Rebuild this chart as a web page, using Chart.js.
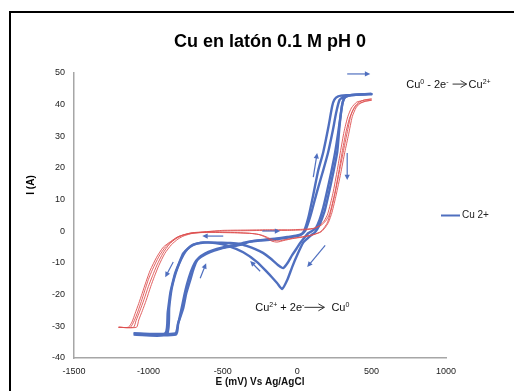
<!DOCTYPE html>
<html>
<head>
<meta charset="utf-8">
<script src="https://cdn.jsdelivr.net/npm/chart.js@4.4.0/dist/chart.umd.min.js"></script>
<style>
  html, body { margin: 0; padding: 0; background: #fff; }
</style>
</head>
<body>
<canvas id="cv" width="514" height="391"></canvas>
<script>
// Potential (mV vs Ag/AgCl) and current (A) for each cycle.
// Each cycle runs forward from the cathodic limit, up to +500 mV, and back.
const blue1E = [-1100, -820, -800, -785, -766, -745, -719, -695, -672, -630, -585, -530, -470, -420, -383, -340, -296, -230, -150, -67, 0, 40, 74, 110, 140, 175, 210, 235, 250, 275, 330, 420, 497,
  400, 340, 315, 300, 285, 269, 240, 210, 185, 168, 145, 120, 95, 70, 40, 0, -34, -67, -101, -134, -170, -202, -269, -363, -470, -550, -632, -670, -699, -730, -766, -795, -820, -840, -853, -870, -887, -1100];
const blue1I = [-32.2, -32.2, -29, -27, -24.3, -19.5, -15.4, -11.6, -9.1, -7.6, -6.6, -5.7, -5.0, -4.6, -4.3, -3.6, -3.0, -2.7, -2.3, -1.8, -1.3, -0.5, 4.2, 12, 19, 25, 33, 39.5, 41.6, 42.6, 43.0, 43.2, 43.4,
  43.2, 42.8, 42.0, 39.5, 33.5, 25, 18, 11.5, 6.5, 4.2, 1.5, -0.3, -1.2, -2.2, -3.6, -7.5, -11.3, -15.4, -18.2, -16.4, -14.5, -12.9, -9.7, -6.6, -4.5, -3.7, -3.5, -3.8, -4.2, -5.2, -7.0, -10.2, -13.2, -16.8, -19.5, -25.5, -32.2, -32.2];

const blue2E = [-1100, -815, -800, -780, -760, -740, -715, -690, -660, -620, -570, -500, -420, -340, -250, -150, -50, 20, 55, 90, 130, 170, 208, 240, 262, 285, 320, 400, 500,
  420, 350, 320, 305, 290, 275, 255, 230, 200, 175, 150, 125, 100, 74, 45, 20, -5, -34, -65, -94, -125, -181, -230, -282, -340, -383, -450, -520, -600, -650, -690, -720, -750, -780, -805, -825, -845, -860, -877, -1100];
const blue2I = [-32.6, -32.6, -29.2, -25, -20.5, -16.6, -12.8, -10.1, -8.3, -7.0, -6.0, -5.1, -4.3, -3.4, -2.9, -2.5, -1.9, -1.2, 0.3, 5, 12, 18.5, 25, 32, 37.5, 41.5, 42.7, 43.1, 43.3,
  43.2, 42.9, 42.3, 40.5, 36, 31, 25, 19, 12.5, 7.5, 3.6, 1.0, 0.1, -0.6, -2.2, -3.7, -5.5, -7.5, -10, -11.6, -10.8, -8.5, -6.8, -5.6, -4.6, -4.0, -3.7, -3.6, -3.5, -3.7, -4.1, -4.9, -6.3, -8.8, -11.6, -14.5, -18.5, -24, -32.6, -32.6];

const red1E = [-1200, -1080, -1065, -1040, -1015, -985, -960, -930, -890, -845, -800, -760, -700, -600, -500, -350, -200, -50, 60, 110, 150, 180, 205, 240, 270, 290, 315, 340, 365, 400, 450, 500,
  450, 410, 385, 360, 335, 309, 280, 250, 222, 200, 175, 150, 100, 40, -30, -90, -134, -170, -215, -260, -320, -400, -500, -600, -706, -760, -806, -850, -900, -945, -988, -1015, -1042, -1065, -1089, -1110, -1135, -1200];
const red1I = [-30.3, -30.3, -28, -25, -21.8, -17.5, -14.3, -10.8, -7.0, -4.2, -2.4, -1.4, -0.6, -0.1, 0.1, 0.2, 0.3, 0.3, 0.5, 0.9, 1.8, 3.2, 5.5, 12, 19.5, 25, 31.5, 36.2, 39, 40.8, 41.4, 41.8,
  41.5, 40.6, 39.3, 36.5, 31, 25, 18, 11, 5.5, 2.5, 0.8, -0.3, -1.2, -1.8, -2.3, -2.9, -3.4, -3.1, -1.8, -1.0, -0.6, -0.4, -0.3, -0.3, -0.6, -1.1, -1.8, -3.2, -5.0, -8.2, -12.3, -15.8, -19.6, -22.8, -25.9, -28.6, -30.3, -30.3];

const red2E = [-1200, -1100, -1083, -1058, -1030, -1000, -972, -942, -902, -860, -815, -772, -715, -610, -500, -350, -200, -50, 60, 115, 160, 192, 218, 252, 282, 302, 326, 350, 375, 410, 455, 500,
  455, 420, 395, 370, 345, 320, 292, 262, 234, 210, 185, 160, 110, 50, -20, -80, -120, -160, -200, -245, -300, -400, -500, -600, -700, -750, -795, -838, -885, -930, -972, -1000, -1025, -1048, -1072, -1095, -1122, -1200];
const red2I = [-30.3, -30.3, -28.2, -25.2, -21.6, -17.4, -14.0, -10.6, -6.9, -4.1, -2.3, -1.3, -0.5, -0.1, 0.3, 0.4, 0.5, 0.5, 0.7, 1.0, 1.9, 3.3, 5.6, 12, 19.5, 25, 31, 35.5, 38.3, 40.2, 41, 41.4,
  41.1, 40.3, 39.0, 36.2, 30.5, 25, 18.2, 11.5, 6, 2.8, 1.0, -0.2, -1.0, -1.6, -2.1, -2.6, -3.0, -2.8, -1.9, -1.1, -0.7, -0.5, -0.4, -0.3, -0.5, -0.9, -1.6, -3.0, -4.9, -8.0, -12.0, -15.2, -18.8, -22.2, -25.5, -28.2, -30.3, -30.3];

// axis ticks
const xTicks = [-1500, -1000, -500, 0, 500, 1000];
const yTicks = [-40, -30, -20, -10, 0, 10, 20, 30, 40, 50];

// scan-direction arrows, [E1, I1, E2, I2] in data units (head at the second point)
const scanArrows = [
  [336, 49.7, 491, 49.7],
  [108, 17.1, 134, 24.7],
  [336, 24.7, 336, 16.2],
  [188, -4.4, 67, -11.3],
  [-249, -12.6, -316, -9.4],
  [-235, 0.1, -114, 0.1],
  [-497, -1.5, -638, -1.5],
  [-833, -9.7, -887, -14.5],
  [-652, -14.8, -612, -10.1]
];

const BLUE = '#4f6fbf';
const RED = 'rgba(222, 80, 80, 0.9)';
const FONT = '"Liberation Sans", Arial, sans-serif';

function toPoints(es, is) {
  return es.map((e, k) => ({ x: e, y: is[k] }));
}

function drawArrow(ctx, x1, y1, x2, y2, color, lw, head) {
  const ang = Math.atan2(y2 - y1, x2 - x1);
  ctx.strokeStyle = color;
  ctx.fillStyle = color;
  ctx.lineWidth = lw;
  ctx.beginPath();
  ctx.moveTo(x1, y1);
  ctx.lineTo(x2 - Math.cos(ang) * head * 0.8, y2 - Math.sin(ang) * head * 0.8);
  ctx.stroke();
  ctx.beginPath();
  ctx.moveTo(x2, y2);
  ctx.lineTo(x2 - head * Math.cos(ang - 0.45), y2 - head * Math.sin(ang - 0.45));
  ctx.lineTo(x2 - head * Math.cos(ang + 0.45), y2 - head * Math.sin(ang + 0.45));
  ctx.closePath();
  ctx.fill();
}

// text with superscripts: parts = [[text, isSup], ...]; returns end x
function drawRich(ctx, parts, x, y) {
  ctx.textAlign = 'left';
  ctx.textBaseline = 'alphabetic';
  ctx.fillStyle = '#111';
  parts.forEach(([t, sup]) => {
    ctx.font = (sup ? '7px ' : '11px ') + FONT;
    ctx.fillText(t, x, sup ? y - 4.5 : y);
    x += ctx.measureText(t).width;
  });
  return x;
}

// reaction label: left text, black arrow, right text
function drawReaction(ctx, left, right, x, y, gap, arrowLen, gap2) {
  const ax = drawRich(ctx, left, x, y) + gap;
  const ay = y - 4;
  ctx.strokeStyle = '#333';
  ctx.lineWidth = 1;
  ctx.beginPath();
  ctx.moveTo(ax, ay);
  ctx.lineTo(ax + arrowLen, ay);
  ctx.moveTo(ax + arrowLen - 6, ay - 3.5);
  ctx.lineTo(ax + arrowLen, ay);
  ctx.lineTo(ax + arrowLen - 6, ay + 3.5);
  ctx.stroke();
  drawRich(ctx, right, ax + arrowLen + gap2, y);
}

const extras = {
  id: 'extras',
  afterDraw(chart) {
    const { ctx, chartArea, scales: { x, y } } = chart;
    ctx.save();

    // outer frame
    ctx.fillStyle = '#000';
    ctx.fillRect(9, 11, chart.width, 2);
    ctx.fillRect(9, 11, 2, chart.height);

    // title
    ctx.fillStyle = '#000';
    ctx.font = 'bold 18px ' + FONT;
    ctx.textAlign = 'center';
    ctx.textBaseline = 'alphabetic';
    ctx.fillText('Cu en latón 0.1 M pH 0', (chartArea.left + chartArea.right) / 2 + 10, 47);

    // y axis title
    ctx.save();
    ctx.translate(31, 185);
    ctx.rotate(-Math.PI / 2);
    ctx.font = 'bold 10px ' + FONT;
    ctx.textBaseline = 'middle';
    ctx.fillText('I (A)', 0, 0);
    ctx.restore();

    // scan arrows
    scanArrows.forEach(a => {
      drawArrow(ctx, x.getPixelForValue(a[0]), y.getPixelForValue(a[1]),
        x.getPixelForValue(a[2]), y.getPixelForValue(a[3]), BLUE, 1.2, 6);
    });

    // reaction labels
    drawReaction(ctx, [['Cu'], ['0', 1], [' - 2e'], ['-', 1]], [['Cu'], ['2+', 1]],
      x.getPixelForValue(733), y.getPixelForValue(46.5) + 4, 4, 14, 2);
    drawReaction(ctx, [['Cu'], ['2+', 1], [' + 2e'], ['-', 1]], [['Cu'], ['0', 1]],
      x.getPixelForValue(-282), y.getPixelForValue(-24) + 4, 0, 20, 7);

    // legend
    const ly = (chartArea.top + chartArea.bottom) / 2;
    ctx.strokeStyle = BLUE;
    ctx.lineWidth = 2;
    ctx.beginPath();
    ctx.moveTo(chartArea.right - 5, ly);
    ctx.lineTo(chartArea.right + 14, ly);
    ctx.stroke();
    ctx.fillStyle = '#222';
    ctx.font = '10px ' + FONT;
    ctx.textAlign = 'left';
    ctx.textBaseline = 'middle';
    ctx.fillText('Cu 2+', chartArea.right + 16, ly);

    ctx.restore();
  }
};

const lineStyle = (color, width) => ({
  showLine: true,
  borderColor: color,
  backgroundColor: color,
  borderWidth: width,
  pointRadius: 0,
  tension: 0.2,
  fill: false
});

new Chart(document.getElementById('cv'), {
  type: 'scatter',
  data: {
    datasets: [
      { label: 'red 1', data: toPoints(red1E, red1I), ...lineStyle(RED, 1) },
      { label: 'red 2', data: toPoints(red2E, red2I), ...lineStyle(RED, 1) },
      { label: 'Cu 2+', data: toPoints(blue1E, blue1I), ...lineStyle(BLUE, 2.4) },
      { label: 'Cu 2+ (2)', data: toPoints(blue2E, blue2I), ...lineStyle(BLUE, 2.4) }
    ]
  },
  options: {
    responsive: false,
    animation: false,
    devicePixelRatio: 1,
    layout: { padding: { left: 0, right: 68, top: 73, bottom: 0 } },
    plugins: {
      legend: { display: false },
      title: { display: false },
      tooltip: { enabled: false }
    },
    scales: {
      x: {
        type: 'linear',
        min: xTicks[0],
        max: xTicks[xTicks.length - 1],
        afterBuildTicks: s => { s.ticks = xTicks.map(v => ({ value: v })); },
        afterFit: s => { s.height = 33; },
        grid: { display: false, drawTicks: false },
        border: { display: true, color: '#a6a6a6', width: 1.5 },
        ticks: { color: '#222', padding: 8, maxRotation: 0, font: { family: FONT, size: 9 }, callback: v => String(v) },
        title: {
          display: true,
          text: 'E (mV) Vs Ag/AgCl',
          color: '#111',
          font: { family: FONT, size: 10, weight: 'bold' },
          padding: { top: 0, bottom: 3 }
        }
      },
      y: {
        type: 'linear',
        min: yTicks[0],
        max: yTicks[yTicks.length - 1],
        afterBuildTicks: s => { s.ticks = yTicks.map(v => ({ value: v })); },
        afterFit: s => { s.width = 74; },
        grid: { display: false, drawTicks: false },
        border: { display: true, color: '#a6a6a6', width: 1.5 },
        ticks: { color: '#222', padding: 9, font: { family: FONT, size: 9 }, callback: v => String(v) }
      }
    }
  },
  plugins: [extras]
});
</script>
</body>
</html>
